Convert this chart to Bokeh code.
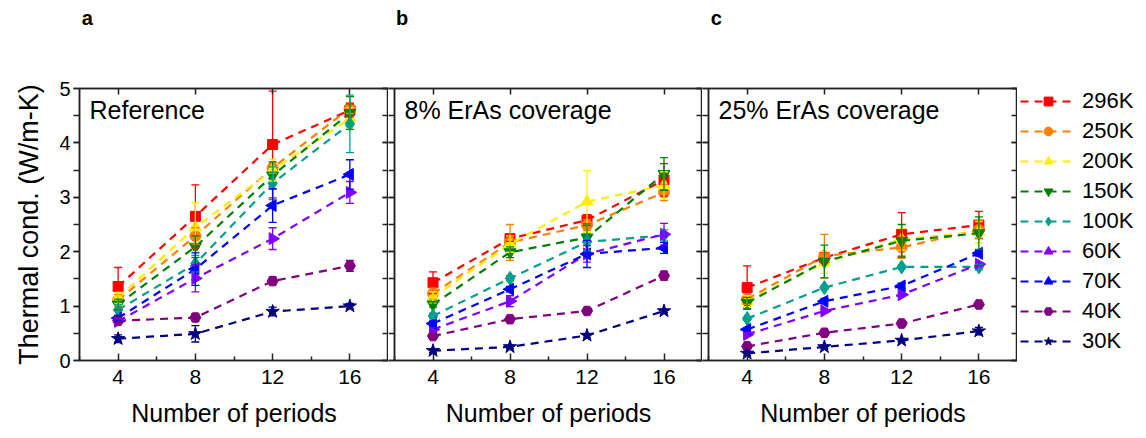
import math
from bokeh.plotting import figure
from bokeh.models import (Range1d, FixedTicker, LinearAxis, Whisker, TeeHead,
                          ColumnDataSource, Label, Legend, LegendItem)
from bokeh.layouts import row
from bokeh.embed import file_html
from bokeh.resources import INLINE

# ---------------- data ----------------
periods = [4, 8, 12, 16]
temperatures = ["296K", "250K", "200K", "150K", "100K", "60K", "70K", "40K", "30K"]
y_ticks = [0, 1, 2, 3, 4, 5]
panel_titles = ["Reference", "8% ErAs coverage", "25% ErAs coverage"]
panel_letters = ["a", "b", "c"]
x_title = "Number of periods"
y_title = "Thermal cond. (W/m-K)"

# Panel a: Reference
ref_296K = [1.36, 2.65, 3.97, 4.60]
ref_250K = [1.11, 2.29, 3.54, 4.64]
ref_200K = [1.15, 2.45, 3.50, 4.45]
ref_150K = [1.03, 2.09, 3.40, 4.55]
ref_100K = [0.93, 1.78, 3.26, 4.35]
ref_60K = [0.72, 1.51, 2.24, 3.09]
ref_70K = [0.78, 1.68, 2.85, 3.42]
ref_40K = [0.73, 0.79, 1.46, 1.74]
ref_30K = [0.40, 0.49, 0.90, 1.00]
ref_296K_err = [0.35, 0.58, 0.98, 0.12]
ref_250K_err = [0.10, 0.15, 0.10, 0.10]
ref_200K_err = [0.10, 0.45, 0.20, 0.20]
ref_150K_err = [0.10, 0.20, 0.25, 0.30]
ref_100K_err = [0.10, 0.15, 0.30, 0.53]
ref_60K_err = [0.06, 0.25, 0.20, 0.20]
ref_70K_err = [0.05, 0.30, 0.31, 0.27]
ref_40K_err = [0.06, 0.07, 0.07, 0.10]
ref_30K_err = [0.07, 0.15, 0.08, 0.05]

# Panel b: 8% ErAs coverage
e8_296K = [1.43, 2.24, 2.58, 3.32]
e8_250K = [1.23, 2.17, 2.49, 3.09]
e8_200K = [1.16, 2.14, 2.92, 3.22]
e8_150K = [1.03, 1.99, 2.26, 3.43]
e8_100K = [0.82, 1.51, 2.18, 2.30]
e8_60K = [0.57, 1.09, 1.96, 2.32]
e8_70K = [0.68, 1.31, 1.96, 2.07]
e8_40K = [0.45, 0.76, 0.91, 1.56]
e8_30K = [0.18, 0.25, 0.46, 0.91]
e8_296K_err = [0.20, 0.05, 0.10, 0.30]
e8_250K_err = [0.10, 0.33, 0.10, 0.15]
e8_200K_err = [0.10, 0.15, 0.57, 0.25]
e8_150K_err = [0.05, 0.10, 0.25, 0.30]
e8_100K_err = [0.05, 0.05, 0.15, 0.10]
e8_60K_err = [0.05, 0.10, 0.15, 0.20]
e8_70K_err = [0.05, 0.05, 0.25, 0.10]
e8_40K_err = [0.03, 0.03, 0.03, 0.08]
e8_30K_err = [0.03, 0.03, 0.03, 0.03]

# Panel c: 25% ErAs coverage
e25_296K = [1.34, 1.89, 2.32, 2.49]
e25_250K = [1.13, 1.92, 2.08, 2.40]
e25_200K = [1.09, 1.80, 2.23, 2.36]
e25_150K = [1.06, 1.82, 2.20, 2.34]
e25_100K = [0.77, 1.34, 1.72, 1.72]
e25_60K = [0.48, 0.91, 1.21, 1.77]
e25_70K = [0.57, 1.09, 1.37, 1.97]
e25_40K = [0.26, 0.51, 0.68, 1.03]
e25_30K = [0.13, 0.25, 0.37, 0.54]
e25_296K_err = [0.40, 0.10, 0.40, 0.25]
e25_250K_err = [0.10, 0.40, 0.20, 0.15]
e25_200K_err = [0.10, 0.20, 0.20, 0.20]
e25_150K_err = [0.10, 0.30, 0.30, 0.30]
e25_100K_err = [0.03, 0.03, 0.03, 0.05]
e25_60K_err = [0.03, 0.03, 0.03, 0.03]
e25_70K_err = [0.03, 0.05, 0.05, 0.05]
e25_40K_err = [0.03, 0.03, 0.03, 0.03]
e25_30K_err = [0.03, 0.03, 0.03, 0.07]

panels = [
    ([ref_296K, ref_250K, ref_200K, ref_150K, ref_100K, ref_60K, ref_70K, ref_40K, ref_30K],
     [ref_296K_err, ref_250K_err, ref_200K_err, ref_150K_err, ref_100K_err, ref_60K_err,
      ref_70K_err, ref_40K_err, ref_30K_err]),
    ([e8_296K, e8_250K, e8_200K, e8_150K, e8_100K, e8_60K, e8_70K, e8_40K, e8_30K],
     [e8_296K_err, e8_250K_err, e8_200K_err, e8_150K_err, e8_100K_err, e8_60K_err,
      e8_70K_err, e8_40K_err, e8_30K_err]),
    ([e25_296K, e25_250K, e25_200K, e25_150K, e25_100K, e25_60K, e25_70K, e25_40K, e25_30K],
     [e25_296K_err, e25_250K_err, e25_200K_err, e25_150K_err, e25_100K_err, e25_60K_err,
      e25_70K_err, e25_40K_err, e25_30K_err]),
]

# ---------------- styles ----------------
colors = ["#ff0000", "#ff8000", "#ffee00", "#008000", "#00a08c",
          "#8000ff", "#0000ff", "#800080", "#000080"]
markers = ["square", "circle", "triangle", "inverted_triangle", "diamond",
           "triangle", "triangle", "hex", "star"]
angles = [0, 0, 0, 0, 0, -math.pi / 2, math.pi / 2, 0, 0]
sizes = [10, 11, 12, 12, 14, 12, 12, 11, 14]
FONT = "Liberation Sans"
AX = "#222222"

widths = [388, 314, 315]
borders_left = [79, 6, 6]
LETTER_X = 2.4


def make_panel(i):
    p = figure(width=widths[i], height=438, output_backend="svg", toolbar_location=None,
               x_range=Range1d(2, 18), y_range=Range1d(0, 5),
               min_border_left=borders_left[i], min_border_right=0,
               min_border_top=88, min_border_bottom=78)
    p.grid.visible = False
    p.outline_line_color = AX
    p.outline_line_width = 1.5
    p.background_fill_color = "white"
    p.border_fill_color = "white"

    minor_x = [2, 6, 10, 14, 18]
    minor_y = [k * 0.5 for k in range(11)]

    xa = p.xaxis[0]
    xa.ticker = FixedTicker(ticks=periods, minor_ticks=minor_x)
    xa.major_tick_in = 7
    xa.major_tick_out = 0
    xa.minor_tick_in = 4
    xa.minor_tick_out = 0
    xa.major_label_text_font = FONT
    xa.major_label_text_font_size = "21px"
    xa.major_label_text_color = "black"
    xa.major_label_standoff = 9
    xa.axis_label = x_title
    xa.axis_label_text_font = FONT
    xa.axis_label_text_font_size = "25px"
    xa.axis_label_text_font_style = "normal"
    xa.axis_label_text_color = "black"
    xa.axis_label_standoff = 12

    ya = p.yaxis[0]
    ya.ticker = FixedTicker(ticks=y_ticks, minor_ticks=minor_y)
    ya.major_tick_in = 0
    ya.major_tick_out = 6
    ya.minor_tick_in = 0
    ya.minor_tick_out = 6
    if i == 0:
        ya.major_label_text_font = FONT
        ya.major_label_text_font_size = "20px"
        ya.major_label_text_color = "black"
        ya.major_label_standoff = 3
        ya.axis_label = y_title
        ya.axis_label_text_font = FONT
        ya.axis_label_text_font_size = "27px"
        ya.axis_label_text_font_style = "normal"
        ya.axis_label_text_color = "black"
        ya.axis_label_standoff = 12
    else:
        ya.major_label_text_font_size = "1px"
        ya.major_label_text_alpha = 0
        ya.major_label_standoff = 0

    top = LinearAxis(ticker=FixedTicker(ticks=periods, minor_ticks=minor_x),
                     major_tick_in=6, major_tick_out=0, minor_tick_in=0, minor_tick_out=0,
                     major_label_text_font_size="1px", major_label_text_alpha=0,
                     major_label_standoff=0)
    right = LinearAxis(ticker=FixedTicker(ticks=y_ticks, minor_ticks=minor_y),
                       major_tick_in=6, major_tick_out=0, minor_tick_in=6, minor_tick_out=0,
                       major_label_text_font_size="1px", major_label_text_alpha=0,
                       major_label_standoff=0)
    p.add_layout(top, "above")
    p.add_layout(right, "right")
    for ax in [xa, ya, top, right]:
        ax.axis_line_color = AX
        ax.axis_line_width = 1.5
        ax.major_tick_line_color = AX
        ax.minor_tick_line_color = AX
        ax.major_tick_line_width = 1.5
        ax.minor_tick_line_width = 1.5

    # panel letter, carried by an outer (line-less) top axis
    letter_axis = LinearAxis(ticker=FixedTicker(ticks=[LETTER_X], minor_ticks=[]),
                             major_label_overrides={LETTER_X: panel_letters[i]},
                             axis_line_color=None, major_tick_line_color=None,
                             minor_tick_line_color=None, major_tick_in=0, major_tick_out=0,
                             major_label_standoff=60, major_label_text_font=FONT,
                             major_label_text_font_size="20px",
                             major_label_text_font_style="bold",
                             major_label_text_color="black")
    p.add_layout(letter_axis, "above")

    # panel caption
    p.add_layout(Label(x=2, y=5, x_offset=10, y_offset=-7, text=panel_titles[i],
                       text_baseline="top", text_align="left", text_font=FONT,
                       text_font_size="25px", text_color="black"))

    vals, errs = panels[i]
    for k in range(len(temperatures)):
        c = colors[k]
        v = vals[k]
        e = errs[k]
        src = ColumnDataSource(dict(x=periods, y=v,
                                    upper=[a + b for a, b in zip(v, e)],
                                    lower=[a - b for a, b in zip(v, e)]))
        p.line("x", "y", source=src, line_color=c, line_width=2.2, line_dash="8 6")
        p.add_layout(Whisker(source=src, base="x", upper="upper", lower="lower",
                             line_color=c, line_width=1.3, level="glyph",
                             upper_head=TeeHead(size=8, line_color=c, line_width=1.3),
                             lower_head=TeeHead(size=8, line_color=c, line_width=1.3)))
        p.scatter("x", "y", source=src, marker=markers[k], size=sizes[k], angle=angles[k],
                  fill_color=c, line_color=c)
    return p


def make_legend():
    # legend-only figure: its renderers carry panel c's series but lie outside the view
    lf = figure(width=129, height=438, output_backend="svg", toolbar_location=None,
                x_axis_type=None, y_axis_type=None,
                x_range=Range1d(100, 101), y_range=Range1d(100, 101),
                min_border_left=3, min_border_right=0, min_border_top=88, min_border_bottom=78)
    lf.outline_line_color = None
    lf.background_fill_color = "white"
    lf.border_fill_color = "white"
    vals = panels[2][0]
    items = []
    for k in range(len(temperatures)):
        c = colors[k]
        ln = lf.line(x=periods, y=vals[k], line_color=c, line_width=2.2, line_dash="8 6")
        sc = lf.scatter(x=periods, y=vals[k], marker=markers[k], size=sizes[k],
                        angle=angles[k], fill_color=c, line_color=c)
        items.append(LegendItem(label=temperatures[k], renderers=[ln, sc]))
    leg = Legend(items=items, location="top_left", orientation="vertical",
                 glyph_width=56, glyph_height=22, label_height=22, label_standoff=6,
                 spacing=4, padding=2, margin=0, border_line_color=None,
                 background_fill_alpha=0, label_text_font=FONT,
                 label_text_font_size="22px", label_text_color="black")
    lf.add_layout(leg, "center")
    return lf


figs = [make_panel(i) for i in range(3)] + [make_legend()]
layout = row(*figs, spacing=0)
open("out.html", "w").write(file_html(layout, INLINE))
